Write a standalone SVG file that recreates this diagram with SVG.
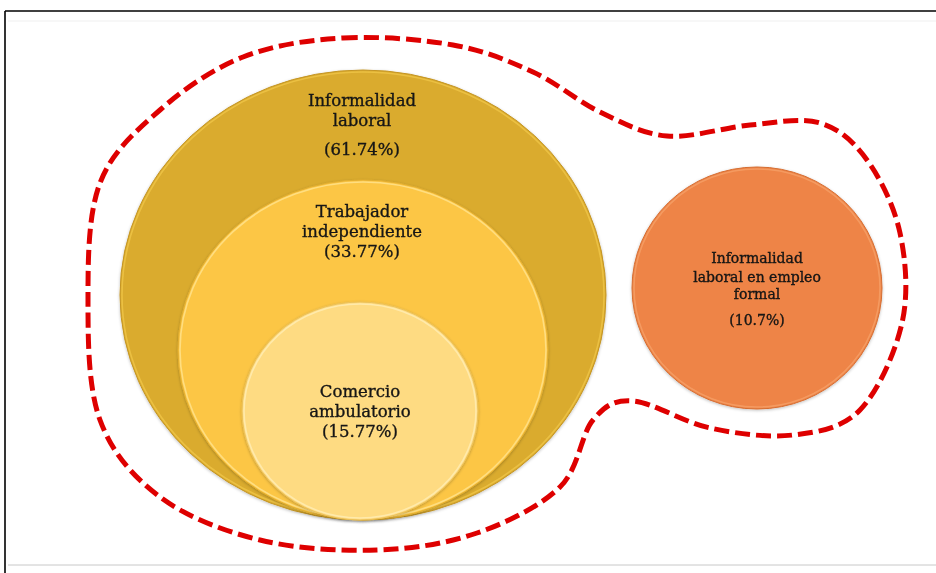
<svg xmlns="http://www.w3.org/2000/svg" width="936" height="573" viewBox="0 0 936 573">
<defs>
<style>
.lbl{font-family:"DejaVu Serif","Liberation Serif",serif;fill:#151515;stroke:#151515;stroke-width:0.35;text-anchor:middle}
.big{font-size:16.5px}
.sm{font-size:14px}
.hl{fill:none;stroke-width:1.6}
</style>
<filter id="sh" x="-10%" y="-10%" width="120%" height="120%">
<feGaussianBlur in="SourceAlpha" stdDeviation="1.5"/>
<feOffset dx="0" dy="1" result="b"/>
<feFlood flood-color="#000" flood-opacity="0.25"/>
<feComposite in2="b" operator="in"/>
<feMerge><feMergeNode/><feMergeNode in="SourceGraphic"/></feMerge>
</filter>
</defs>
<rect width="936" height="573" fill="#fff"/>
<line x1="5" y1="11" x2="936" y2="11" stroke="#000" stroke-width="1.6"/>
<line x1="5" y1="11" x2="5" y2="573" stroke="#000" stroke-width="1.6"/>
<line x1="8" y1="21" x2="936" y2="21" stroke="#efefef" stroke-width="1"/>
<line x1="8" y1="565" x2="936" y2="565" stroke="#c8c8c8" stroke-width="1"/>

<g id="connectors">
<path d="M343,38 C378,36 421.3,39.3 453,45 C484.7,50.7 508.5,60.8 533,72 C557.5,83.2 577.7,101.3 600,112 C622.3,122.7 642,133.8 667,136 C692,138.2 724.5,127.2 750,125 C775.5,122.8 800.5,117.2 820,123 C839.5,128.8 853.7,141.7 867,160 C880.3,178.3 894.2,205.8 900,233 C905.8,260.2 908.7,293.5 902,323 C895.3,352.5 878.2,391.3 860,410 C841.8,428.7 818,432 793,435 C768,438 736.7,433.7 710,428 C683.3,422.3 652.5,402.3 633,401 C613.5,399.7 605.2,405.7 593,420 C580.8,434.3 579.3,468.2 560,487 C540.7,505.8 507.5,522.5 477,533 C446.5,543.5 413.2,548.8 377,550 C340.8,551.2 296.2,548.8 260,540 C223.8,531.2 186.7,517 160,497 C133.3,477 112,452.8 100,420 C88,387.2 88,339.5 88,300 C88,260.5 88,214.7 100,183 C112,151.3 136.2,131 160,110 C183.8,89 212.5,69 243,57 C273.5,45 308,40 343,38 Z" fill="none" stroke="#DE0000" stroke-width="5" stroke-dasharray="15 6"/>
</g>

<g id="informalidad-laboral" filter="url(#sh)">
<ellipse cx="363" cy="295" rx="243" ry="225" fill="#DAAB2F" stroke="#C49524" stroke-width="1"/>
<ellipse class="hl" cx="363" cy="295" rx="241" ry="223" stroke="#F2C94A" opacity="0.7"/>
<text class="lbl big" x="362" y="106">Informalidad</text>
<text class="lbl big" x="362" y="126">laboral</text>
<text class="lbl big" x="362" y="155">(61.74%)</text>
</g>

<g id="trabajador-independiente" filter="url(#sh)">
<ellipse cx="363" cy="350" rx="185" ry="170" fill="#FCC645" stroke="#E2AE30" stroke-width="1"/>
<ellipse class="hl" cx="363" cy="350" rx="183" ry="168" stroke="#FFE48E" opacity="0.8"/>
<text class="lbl big" x="362" y="217">Trabajador</text>
<text class="lbl big" x="362" y="237">independiente</text>
<text class="lbl big" x="362" y="257">(33.77%)</text>
</g>

<g id="comercio-ambulatorio" filter="url(#sh)">
<ellipse cx="360" cy="411" rx="118" ry="109" fill="#FEDB82" stroke="#EBC15A" stroke-width="1"/>
<ellipse class="hl" cx="360" cy="411" rx="116" ry="107" stroke="#FFEDB5" opacity="0.8"/>
<text class="lbl big" x="360" y="397">Comercio</text>
<text class="lbl big" x="360" y="417">ambulatorio</text>
<text class="lbl big" x="360" y="437">(15.77%)</text>
</g>

<g id="informalidad-empleo-formal" filter="url(#sh)">
<ellipse cx="757" cy="288" rx="125" ry="121" fill="#EE8446" stroke="#D56E33" stroke-width="1"/>
<ellipse class="hl" cx="757" cy="288" rx="123" ry="119" stroke="#F8A873" opacity="0.6"/>
<text class="lbl sm" x="757" y="263">Informalidad</text>
<text class="lbl sm" x="757" y="282">laboral en empleo</text>
<text class="lbl sm" x="757" y="299">formal</text>
<text class="lbl sm" x="757" y="325">(10.7%)</text>
</g>
</svg>
